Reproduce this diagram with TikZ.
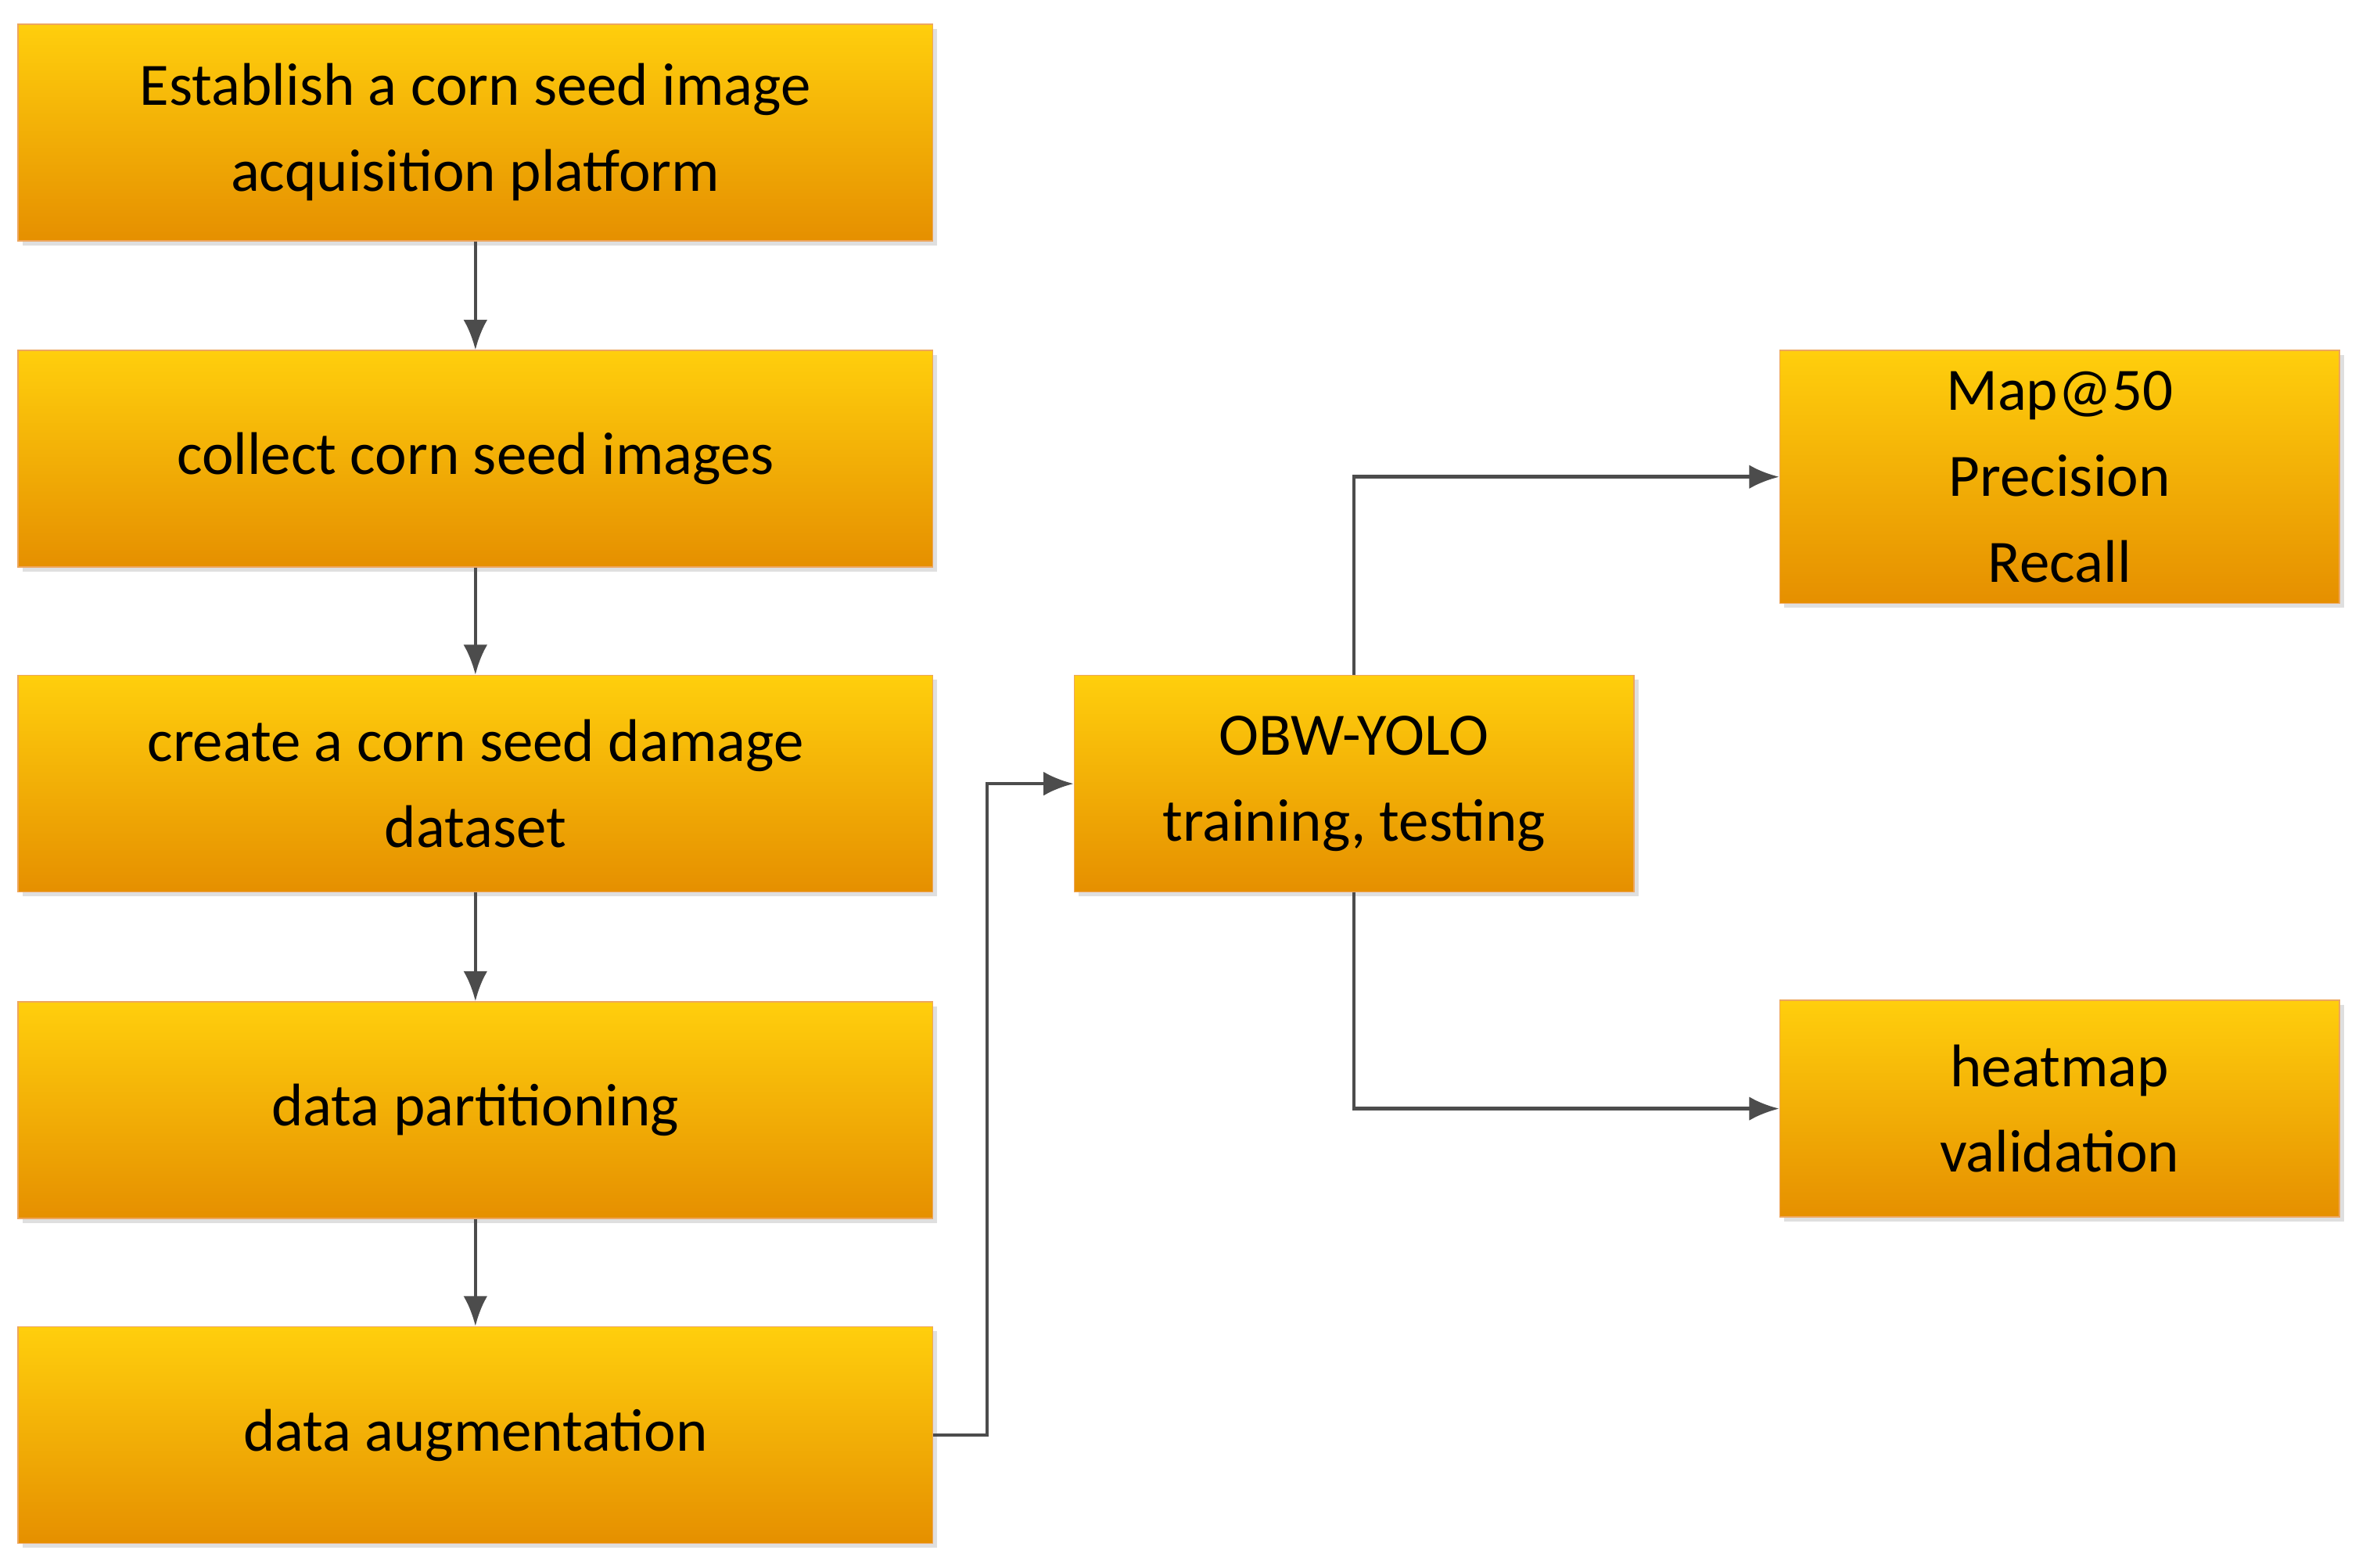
\documentclass[tikz,border=0pt]{standalone}
\usepackage{fontspec}
\setmainfont{Carlito}
\usetikzlibrary{positioning,shadows,arrows.meta}
\tikzset{
  stage/.style={draw=orange!60!brown!70, line width=0.8pt, top color=yellow!60!orange!95!white, bottom color=orange!75!yellow!90!black,
    drop shadow={shadow xshift=3pt, shadow yshift=-3pt, fill=black!25},
    align=center, inner sep=0pt, font=\fontsize{40}{57}\selectfont},
  link/.style={draw=black!70, line width=2.4pt, -{Latex[length=20pt,width=16pt]}}
}
\begin{document}
\begin{tikzpicture}[x=1pt,y=-1pt]
\useasboundingbox (0,0) rectangle (1568,1042);
\node[stage, minimum width=608, minimum height=144] (est) at (316,88) {Establish a corn seed image\\acquisition platform};
\node[stage, minimum width=608, minimum height=144] (col) at (316,305) {collect corn seed images};
\node[stage, minimum width=608, minimum height=144] (cre) at (316,521) {create a corn seed damage\\dataset};
\node[stage, minimum width=608, minimum height=144] (par) at (316,738) {data partitioning};
\node[stage, minimum width=608, minimum height=144] (aug) at (316,954) {data augmentation};
\node[stage, minimum width=372, minimum height=144] (obw) at (900,521) {OBW-YOLO\\training, testing};
\node[stage, minimum width=372, minimum height=168] (map) at (1369,317) {Map@50\\Precision\\Recall};
\node[stage, minimum width=372, minimum height=144] (heat) at (1369,737) {heatmap\\validation};
\draw[link] (est) -- (col);
\draw[link] (col) -- (cre);
\draw[link] (cre) -- (par);
\draw[link] (par) -- (aug);
\draw[link] (aug.east) -| (656,521) -- (obw.west);
\draw[link] (obw.north) |- (map.west);
\draw[link] (obw.south) |- (heat.west);
\end{tikzpicture}
\end{document}
